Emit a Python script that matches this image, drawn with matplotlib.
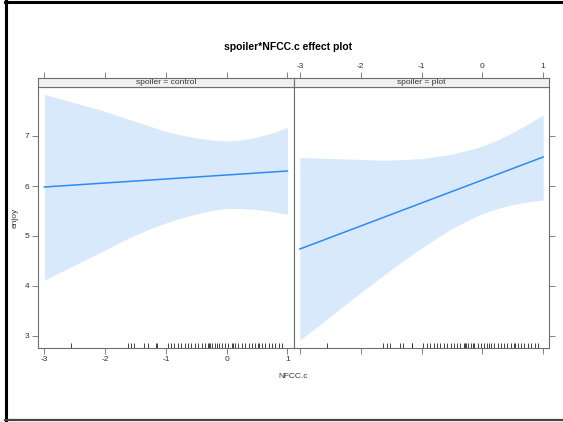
import matplotlib
matplotlib.use("Agg")
import matplotlib.pyplot as plt
from matplotlib.lines import Line2D

plt.rcParams["font.family"] = ["Liberation Sans", "DejaVu Sans"]
plt.rcParams["axes.unicode_minus"] = False

# ── Data ──────────────────────────────────────────────────────────────────────
grid_x = [-3.0, -2.75, -2.5, -2.25, -2.0, -1.75, -1.5, -1.25, -1.0,
          -0.75, -0.5, -0.25, 0.0, 0.25, 0.5, 0.75, 1.0]

control_upper = [7.83, 7.75, 7.66, 7.58, 7.49, 7.39, 7.29, 7.19, 7.09,
                 7.02, 6.96, 6.92, 6.90, 6.92, 6.98, 7.06, 7.17]
control_lower = [4.12, 4.27, 4.42, 4.57, 4.72, 4.88, 5.02, 5.15, 5.26,
                 5.36, 5.44, 5.51, 5.55, 5.55, 5.53, 5.49, 5.43]

plot_upper = [6.57, 6.56, 6.55, 6.54, 6.53, 6.52, 6.52, 6.53, 6.55,
              6.59, 6.64, 6.71, 6.80, 6.92, 7.07, 7.24, 7.42]
plot_lower = [2.92, 3.15, 3.39, 3.63, 3.87, 4.10, 4.33, 4.55, 4.76,
              4.96, 5.15, 5.31, 5.45, 5.55, 5.63, 5.68, 5.72]

fit_x = [-3.0, 1.0]
control_fit = [5.98, 6.30]
plot_fit = [4.74, 6.58]

nfcc_obs = [-2.56, -1.63, -1.57, -1.52, -1.36, -1.30, -1.16, -1.15,
            -0.97, -0.91, -0.86, -0.80, -0.75, -0.69, -0.63, -0.58, -0.52,
            -0.47, -0.41, -0.36, -0.31, -0.29, -0.27, -0.24, -0.19, -0.16,
            -0.13, -0.08, -0.03, 0.03, 0.08, 0.11, 0.14, 0.19, 0.25, 0.30,
            0.36, 0.41, 0.47, 0.52, 0.53, 0.58, 0.63, 0.69, 0.75, 0.80,
            0.86, 0.91]

x_ticks = [-3, -2, -1, 0, 1]
y_ticks = [3, 4, 5, 6, 7]
panel_names = ["spoiler = control", "spoiler = plot"]

# ── Layout (pixels) ───────────────────────────────────────────────────────────
W, H = 563, 422
XLIM = (-3.105, 1.1)
YLIM = (2.766, 7.98)
AXIS_COL = "#6e6e6e"
TEXT_COL = "#333333"
BAND_COL = "#d8e9fc"
LINE_COL = "#2b8cf0"
FS = 6


def px_box(x0, y0, x1, y1):
    return [x0 / W, 1 - y1 / H, (x1 - x0) / W, (y1 - y0) / H]


fig = plt.figure(figsize=(W / 100, H / 100), dpi=100)
fig.patch.set_facecolor("white")

# outer frame of the screenshot
fig.add_artist(Line2D([6 / W, 6 / W], [0, 1 - 1 / H], color="black", lw=2.2, transform=fig.transFigure))
fig.add_artist(Line2D([5 / W, 1], [1 - 2.2 / H, 1 - 2.2 / H], color="black", lw=2.2, transform=fig.transFigure))
fig.add_artist(Line2D([5 / W, 1], [1.6 / H, 1.6 / H], color="#444444", lw=1.6, transform=fig.transFigure))

panels = [
    (38, 293.5, control_fit, control_upper, control_lower),
    (293.5, 549.3, plot_fit, plot_upper, plot_lower),
]

for i, (x0, x1, fit, upper, lower) in enumerate(panels):
    ax = fig.add_axes(px_box(x0, 87, x1, 347.7))
    ax.fill_between(grid_x, lower, upper, color=BAND_COL, lw=0)
    ax.plot(fit_x, fit, color=LINE_COL, lw=1.1)
    ax.vlines(nfcc_obs, 0, 0.019, color="#222222", lw=0.6,
              transform=ax.get_xaxis_transform())
    ax.set_xlim(*XLIM)
    ax.set_ylim(*YLIM)
    for sp in ax.spines.values():
        sp.set_color(AXIS_COL)
        sp.set_linewidth(0.8)
    ax.set_xticks(x_ticks)
    ax.set_yticks(y_ticks)
    ax.tick_params(direction="out", length=4, width=0.6, color=AXIS_COL,
                   labelsize=FS, labelcolor=TEXT_COL, pad=2)
    ax.tick_params(axis="x", top=False, bottom=True, labelbottom=(i == 0))
    if i == 0:
        ax.tick_params(axis="y", left=True, right=False, labelleft=True)
    else:
        ax.tick_params(axis="y", left=False, right=True, labelleft=False)

    # strip with top ticks
    sx = fig.add_axes(px_box(x0, 78, x1, 87))
    sx.set_facecolor("#f0f0f0")
    sx.set_xlim(*XLIM)
    sx.set_ylim(0, 1)
    sx.set_yticks([])
    sx.set_xticks(x_ticks)
    sx.xaxis.tick_top()
    sx.tick_params(axis="x", direction="out", length=4, width=0.6, color=AXIS_COL,
                   labelsize=FS, labelcolor=TEXT_COL, pad=2,
                   labeltop=(i == 1), labelbottom=False, bottom=False)
    for sp in sx.spines.values():
        sp.set_color(AXIS_COL)
        sp.set_linewidth(0.8)
    sx.text(0.5, 0.45, panel_names[i], transform=sx.transAxes, ha="center",
            va="center", fontsize=FS, color=TEXT_COL)

fig.text(288 / W, 1 - 47 / H, "spoiler*NFCC.c effect plot", ha="center",
         va="center", fontsize=7.5, fontweight="bold", color="black")
fig.text(293 / W, 1 - 376 / H, "NFCC.c", ha="center", va="center",
         fontsize=FS, color=TEXT_COL)
fig.text(15 / W, 1 - 218 / H, "enjoy", ha="center", va="center",
         rotation=90, fontsize=FS, color=TEXT_COL)

fig.savefig("out.png", dpi=100, facecolor="white")
